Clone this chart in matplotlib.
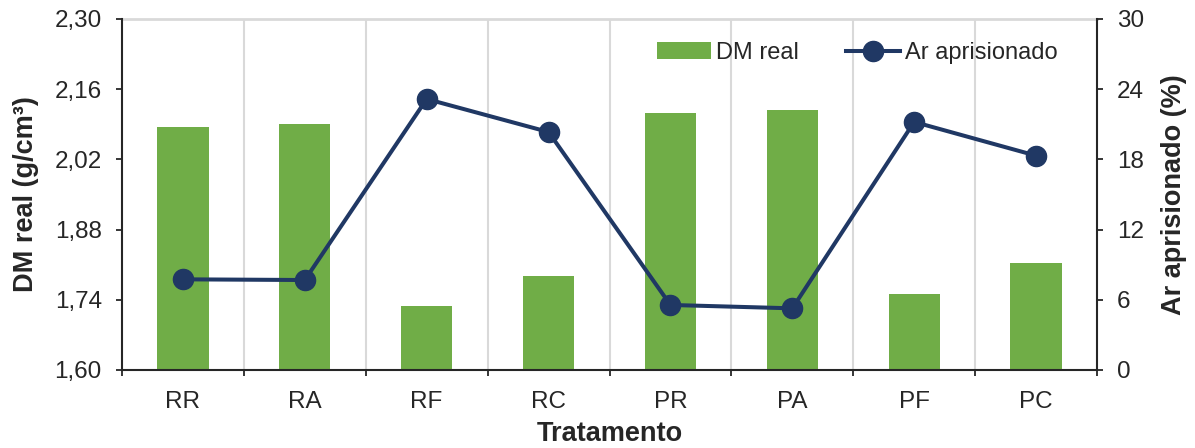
import matplotlib
matplotlib.use("Agg")
import matplotlib.pyplot as plt
import numpy as np

plt.rcParams['font.family'] = ['Liberation Sans', 'DejaVu Sans']

# Data
tratamentos = ["RR", "RA", "RF", "RC", "PR", "PA", "PF", "PC"]
dm_real = [2.085, 2.090, 1.728, 1.787, 2.113, 2.119, 1.751, 1.813]
ar_aprisionado = [7.75, 7.69, 23.16, 20.34, 5.56, 5.27, 21.2, 18.32]
y_left_ticks = [1.60, 1.74, 1.88, 2.02, 2.16, 2.30]
y_right_ticks = [0, 6, 12, 18, 24, 30]

green = "#70AD47"
navy = "#203864"
dark = "#262626"
grid_gray = "#D9D9D9"

W, H = 1195, 448
fig = plt.figure(figsize=(W / 100, H / 100), dpi=100)
ax = fig.add_axes([122 / W, 1 - 370 / H, (1097 - 122) / W, (370 - 19) / H])
ax2 = ax.twinx()

x = np.arange(len(tratamentos))
bars = ax.bar(x, dm_real, width=0.42, color=green, zorder=2, label="DM real")
line, = ax2.plot(x, ar_aprisionado, color=navy, lw=2.9, marker="o",
                 markersize=14.5, zorder=3, label="Ar aprisionado")

# Left axis
ax.set_ylim(1.60, 2.30)
ax.set_yticks(y_left_ticks)
ax.set_yticklabels([f"{v:.2f}".replace(".", ",") for v in y_left_ticks])
ax.set_xlim(-0.5, len(tratamentos) - 0.5)

# Category boundaries: ticks and vertical grid
bounds = np.arange(-0.5, len(tratamentos) + 0.5, 1.0)
ax.set_xticks(bounds)
ax.set_xticklabels([])
ax.set_xticks(x, minor=True)
ax.set_xticklabels(tratamentos, minor=True)
ax.tick_params(axis="x", which="major", length=4.5, width=1.3, color=dark, direction="out")
ax.tick_params(axis="x", which="minor", length=0, labelsize=17.5, pad=15, labelcolor=dark)
for b in bounds[1:-1]:
    ax.axvline(b, color=grid_gray, lw=1.5, zorder=0)
ax.axhline(2.30, color=grid_gray, lw=2, zorder=0, clip_on=False)

ax.tick_params(axis="y", length=4.5, width=1.3, color=dark, labelsize=17.5, labelcolor=dark, pad=10)

ax2.set_ylim(0, 30)
ax2.set_yticks(y_right_ticks)
ax2.tick_params(axis="y", length=4.5, width=1.3, color=dark, labelsize=17.5, labelcolor=dark, pad=10)

for a in (ax, ax2):
    a.spines["top"].set_visible(False)
    for s in ("left", "right", "bottom"):
        a.spines[s].set_color(dark)
        a.spines[s].set_linewidth(1.5)
ax.spines["right"].set_visible(False)
ax2.spines["left"].set_visible(False)
ax2.spines["bottom"].set_visible(False)

ax.set_ylabel("DM real (g/cm³)", fontsize=19.5, fontweight="bold", color=dark, labelpad=11)
ax2.set_ylabel("Ar aprisionado (%)", fontsize=19.5, fontweight="bold", color=dark, labelpad=12)
ax.set_xlabel("Tratamento", fontsize=19.5, fontweight="bold", color=dark, labelpad=6)

fig.legend(handles=[bars, line], labels=["DM real", "Ar aprisionado"],
           loc="center left", bbox_to_anchor=(657 / W, 1 - 53 / H), ncol=2,
           frameon=False, fontsize=17, handlelength=2.3, handletextpad=0.2,
           columnspacing=2.0, borderpad=0, borderaxespad=0, labelcolor=dark)

fig.savefig("out.png", dpi=100)
